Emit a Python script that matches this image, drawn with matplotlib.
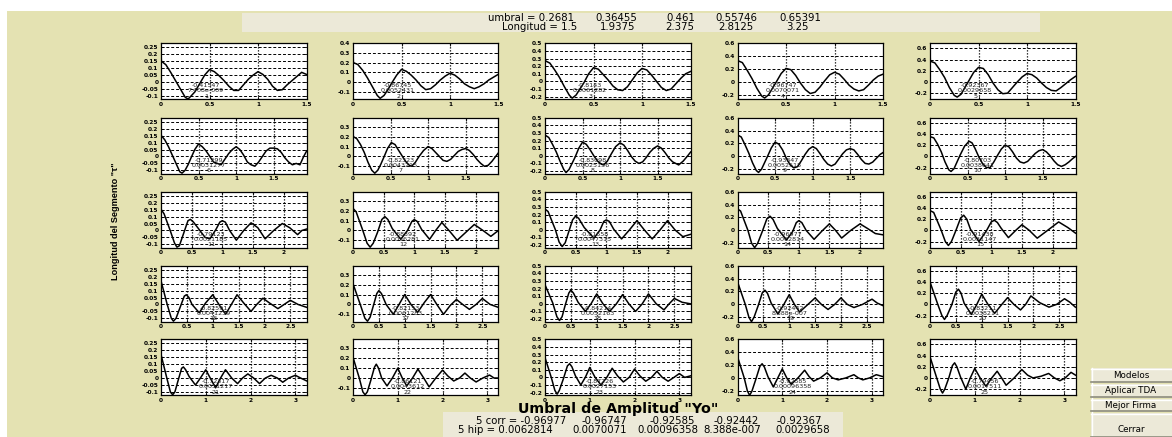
import matplotlib
matplotlib.use("Agg")
import matplotlib.pyplot as plt
from matplotlib.patches import Rectangle
from matplotlib.lines import Line2D

W, H = 1172, 437
BG = '#E4E2B2'
PANEL = '#ECE9D8'

umbral = [0.2681, 0.36455, 0.461, 0.55746, 0.65391]
longitud = [1.5, 1.9375, 2.375, 2.8125, 3.25]
best_corr = ['-0.96977', '-0.96747', '-0.92585', '-0.92442', '-0.92367']
best_hip = ['0.0062814', '0.0070071', '0.00096358', '8.388e-007', '0.0029658']

# correlation / hypothesis value printed inside each subplot
sub_corr = ['-0.41547', '-0.86745', '-0.8143', '-0.96747', '-0.92367',
            '-0.71299', '-0.82323', '-0.83098', '-0.93847', '-0.80703',
            '-0.79123', '-0.88392', '-0.81558', '-0.96977', '-0.91430',
            '-0.82591', '-0.82153', '-0.84214', '-0.92442', '-0.83211',
            '-0.72317', '-0.86121', '-0.87226', '-0.92585', '-0.79456']
sub_hip = ['7.408e-009', '0.0052431', '0.0061282', '0.0070071', '0.0029658',
           '0.0031277', '0.0043215', '0.0025136', '0.0052518', '0.0038641',
           '0.0021185', '0.0036281', '0.0047315', '0.0062814', '0.0031147',
           '0.0041239', '0.0061283', '0.0052163', '8.388e-007', '0.0038211',
           '0.0051217', '0.0043612', '0.0027153', '0.00096358', '0.0017511']

# y range per column, per row
ylims = [
    [(-0.124, 0.279), (-0.18, 0.4), (-0.235, 0.5), (-0.27, 0.6), (-0.31, 0.69)],
    [(-0.124, 0.279), (-0.175, 0.392), (-0.235, 0.5), (-0.27, 0.6), (-0.31, 0.69)],
    [(-0.124, 0.279), (-0.175, 0.392), (-0.235, 0.5), (-0.27, 0.6), (-0.31, 0.69)],
    [(-0.124, 0.279), (-0.175, 0.392), (-0.235, 0.5), (-0.27, 0.6), (-0.31, 0.69)],
    [(-0.124, 0.279), (-0.175, 0.392), (-0.235, 0.5), (-0.27, 0.6), (-0.31, 0.69)],
]
col_yticks = [
    [-0.1, -0.05, 0, 0.05, 0.1, 0.15, 0.2, 0.25],
    [-0.1, 0, 0.1, 0.2, 0.3, 0.4],
    [-0.2, -0.1, 0, 0.1, 0.2, 0.3, 0.4, 0.5],
    [-0.2, 0, 0.2, 0.4, 0.6],
    [-0.2, 0, 0.2, 0.4, 0.6],
]
row_xticks = [
    [0, 0.5, 1, 1.5],
    [0, 0.5, 1, 1.5],
    [0, 0.5, 1, 1.5, 2],
    [0, 0.5, 1, 1.5, 2, 2.5],
    [0, 1, 2, 3],
]

# autocorrelation curves, (tau, value) pairs
c01 = [(0, .21), (.004, .15), (.05, .125), (.1, .07), (.15, .01), (.2, -.05), (.25, -.11), (.28, -.122),
       (.31, -.1), (.35, -.07), (.4, -.01), (.45, .05), (.5, .09), (.55, .075), (.6, .045), (.65, .01),
       (.7, -.03), (.75, -.06), (.8, -.06), (.85, -.02), (.9, .02), (.95, .05), (1.0, .075), (1.05, .055),
       (1.1, .02), (1.15, -.03), (1.2, -.06), (1.25, -.055), (1.3, -.02), (1.35, .01), (1.4, .04),
       (1.45, .07), (1.5, .055)]
c02 = [(0, .3), (.004, .2), (.05, .18), (.1, .12), (.15, .04), (.2, -.05), (.25, -.14), (.28, -.17),
       (.32, -.14), (.36, -.08), (.4, -.01), (.45, .07), (.5, .13), (.55, .11), (.6, .07), (.65, .02),
       (.7, -.04), (.75, -.08), (.8, -.07), (.85, -.03), (.9, .02), (.95, .06), (1.0, .09), (1.05, .07),
       (1.1, .03), (1.15, -.02), (1.2, -.05), (1.25, -.07), (1.3, -.05), (1.35, -.02), (1.4, .02),
       (1.45, .05), (1.5, .08)]
c03 = [(0, .38), (.004, .27), (.05, .24), (.1, .15), (.15, .05), (.2, -.07), (.25, -.18), (.28, -.22),
       (.32, -.18), (.36, -.1), (.4, -.02), (.45, .1), (.5, .18), (.55, .16), (.6, .09), (.65, .02),
       (.7, -.06), (.75, -.11), (.8, -.12), (.85, -.07), (.9, .02), (.95, .11), (1.0, .17), (1.05, .15),
       (1.1, .08), (1.15, 0), (1.2, -.08), (1.25, -.12), (1.3, -.1), (1.35, -.03), (1.4, .04),
       (1.45, .1), (1.5, .13)]
c04 = [(0, .45), (.004, .33), (.05, .3), (.1, .18), (.15, .05), (.2, -.1), (.25, -.22), (.28, -.25),
       (.32, -.2), (.36, -.1), (.4, 0), (.45, .13), (.5, .21), (.55, .19), (.6, .1), (.65, -.02),
       (.7, -.12), (.75, -.18), (.8, -.16), (.85, -.08), (.9, .02), (.95, .11), (1.0, .15), (1.05, .12),
       (1.1, .04), (1.15, -.05), (1.2, -.11), (1.25, -.14), (1.3, -.12), (1.35, -.05), (1.4, .03),
       (1.45, .09), (1.5, .12)]
c05 = [(0, .55), (.004, .37), (.05, .34), (.1, .22), (.15, .08), (.2, -.1), (.25, -.24), (.28, -.27),
       (.32, -.22), (.36, -.1), (.4, .02), (.45, .17), (.5, .26), (.55, .24), (.6, .13), (.65, -.02),
       (.7, -.14), (.75, -.21), (.8, -.2), (.85, -.1), (.9, 0), (.95, .09), (1.0, .15), (1.05, .13),
       (1.1, .07), (1.15, -.02), (1.2, -.1), (1.25, -.15), (1.3, -.16), (1.35, -.1), (1.4, -.03),
       (1.45, .04), (1.5, .1)]

c06 = [(0, .21), (.004, .15), (.05, .12), (.1, .07), (.15, .01), (.2, -.05), (.25, -.11), (.28, -.12),
       (.32, -.1), (.36, -.06), (.4, -.01), (.45, .05), (.5, .09), (.55, .07), (.6, .04), (.65, 0),
       (.7, -.04), (.75, -.05), (.8, -.06), (.85, -.02), (.9, .02), (.95, .05), (1.0, .07), (1.05, .05),
       (1.1, .01), (1.15, -.04), (1.2, -.06), (1.25, -.07), (1.3, -.04), (1.35, 0), (1.4, .04),
       (1.45, .06), (1.5, .06), (1.55, .055), (1.6, .03), (1.65, -.01), (1.7, -.04), (1.75, -.06),
       (1.8, -.05), (1.85, -.06), (1.9, 0), (1.94, .04)]
c07 = [(0, .3), (.004, .2), (.05, .18), (.1, .12), (.15, .04), (.2, -.06), (.25, -.14), (.29, -.17),
       (.33, -.14), (.37, -.08), (.41, -.01), (.46, .08), (.51, .14), (.56, .12), (.6, .07), (.65, .01),
       (.7, -.05), (.75, -.09), (.78, -.1), (.83, -.06), (.88, 0), (.94, .06), (1.0, .1), (1.05, .08),
       (1.1, .04), (1.15, 0), (1.2, -.04), (1.25, -.05), (1.3, -.03), (1.35, .01), (1.4, .05),
       (1.45, .07), (1.5, .08), (1.55, .06), (1.6, .02), (1.65, -.03), (1.7, -.07), (1.75, -.1),
       (1.8, -.09), (1.85, -.05), (1.9, 0), (1.94, .04)]
c08 = [(0, .36), (.004, .27), (.05, .24), (.1, .15), (.15, .05), (.2, -.07), (.25, -.18), (.28, -.22),
       (.32, -.18), (.36, -.1), (.4, -.02), (.45, .1), (.5, .18), (.55, .15), (.6, .08), (.65, 0),
       (.7, -.07), (.75, -.11), (.78, -.12), (.83, -.07), (.88, .02), (.94, .12), (1.0, .17), (1.05, .14),
       (1.1, .07), (1.15, -.01), (1.2, -.07), (1.25, -.1), (1.3, -.08), (1.35, -.02), (1.4, .05),
       (1.45, .1), (1.5, .13), (1.55, .1), (1.6, .04), (1.65, -.03), (1.7, -.08), (1.78, -.12),
       (1.84, -.07), (1.9, 0), (1.94, .05)]
c09 = [(0, .45), (.004, .33), (.05, .3), (.1, .18), (.15, .05), (.2, -.1), (.25, -.22), (.28, -.25),
       (.32, -.2), (.36, -.1), (.4, 0), (.45, .13), (.5, .22), (.55, .19), (.6, .1), (.65, -.03),
       (.7, -.13), (.75, -.18), (.8, -.16), (.85, -.07), (.9, .03), (.95, .11), (1.0, .15), (1.05, .12),
       (1.1, .04), (1.15, -.05), (1.2, -.12), (1.25, -.15), (1.3, -.12), (1.35, -.04), (1.4, .04),
       (1.45, .1), (1.5, .12), (1.55, .1), (1.6, .03), (1.65, -.05), (1.7, -.11), (1.75, -.12),
       (1.8, -.09), (1.85, -.03), (1.9, .03), (1.94, .06)]
c10 = [(0, .52), (.004, .35), (.05, .33), (.1, .22), (.15, .08), (.2, -.1), (.25, -.24), (.28, -.27),
       (.32, -.22), (.36, -.1), (.4, .02), (.46, .18), (.52, .27), (.56, .24), (.6, .14), (.65, -.01),
       (.7, -.13), (.75, -.2), (.8, -.2), (.85, -.1), (.9, .02), (.95, .13), (1.0, .2), (1.05, .17),
       (1.1, .08), (1.15, -.03), (1.2, -.1), (1.25, -.12), (1.3, -.09), (1.35, -.02), (1.4, .05),
       (1.45, .1), (1.5, .12), (1.55, .08), (1.6, .01), (1.65, -.08), (1.7, -.15), (1.75, -.18),
       (1.8, -.15), (1.85, -.1), (1.9, -.04), (1.94, 0)]

c11 = [(0, .21), (.004, .15), (.05, .12), (.15, 0), (.22, -.09), (.26, -.12), (.3, -.11), (.37, -.02),
       (.44, .07), (.48, .08), (.53, .06), (.6, .02), (.72, -.05), (.8, -.06), (.9, .01), (.96, .06),
       (1.0, .07), (1.05, .06), (1.12, 0), (1.23, -.07), (1.35, 0), (1.47, .055), (1.58, .02),
       (1.7, -.06), (1.84, 0), (1.98, .05), (2.1, .02), (2.23, -.03), (2.3, 0), (2.375, .01)]
c12 = [(0, .3), (.004, .22), (.05, .19), (.16, 0), (.23, -.13), (.28, -.17), (.33, -.13), (.4, -.02),
       (.47, .11), (.52, .14), (.57, .11), (.64, .02), (.78, -.09), (.89, 0), (.96, .09), (1.0, .11),
       (1.05, .09), (1.12, .01), (1.25, -.09), (1.35, 0), (1.45, .08), (1.58, -.01), (1.7, -.1),
       (1.84, -.02), (1.98, .06), (2.12, 0), (2.25, -.06), (2.375, 0)]
c13 = [(0, .35), (.004, .27), (.05, .24), (.17, 0), (.23, -.16), (.28, -.22), (.33, -.17), (.39, -.02),
       (.45, .13), (.5, .18), (.55, .15), (.64, .03), (.8, -.11), (.9, 0), (.96, .11), (1.0, .13),
       (1.05, .11), (1.12, .01), (1.25, -.12), (1.38, 0), (1.5, .12), (1.62, 0), (1.75, -.12), (1.88, 0),
       (2.0, .12), (2.12, 0), (2.25, -.09), (2.375, -.06)]
c14 = [(0, .45), (.004, .33), (.05, .3), (.17, 0), (.23, -.2), (.28, -.27), (.33, -.2), (.4, -.03),
       (.48, .18), (.53, .22), (.58, .17), (.65, .03), (.8, -.15), (.9, -.02), (.96, .12), (1.0, .15),
       (1.05, .12), (1.12, 0), (1.25, -.14), (1.38, -.01), (1.5, .1), (1.6, 0), (1.7, -.12), (1.85, 0),
       (2.0, .1), (2.12, .03), (2.25, -.05), (2.375, -.07)]
c15 = [(0, .55), (.004, .35), (.06, .32), (.18, .01), (.25, -.2), (.3, -.27), (.35, -.2), (.42, -.01),
       (.5, .22), (.55, .27), (.6, .2), (.66, .02), (.8, -.2), (.92, -.01), (1.0, .15), (1.05, .18),
       (1.1, .14), (1.16, .04), (1.28, -.13), (1.4, 0), (1.5, .1), (1.62, 0), (1.75, -.14), (1.92, 0),
       (2.1, .15), (2.25, .05), (2.375, -.05)]

c16 = [(0, .17), (.12, 0), (.2, -.1), (.24, -.12), (.29, -.1), (.36, -.03), (.45, .06), (.49, .07),
       (.54, .05), (.6, 0), (.74, -.06), (.86, .01), (1.0, .07), (1.12, 0), (1.25, -.07), (1.36, 0),
       (1.47, .07), (1.6, .01), (1.74, -.05), (1.85, 0), (1.97, .045), (2.1, .01), (2.26, -.03),
       (2.38, 0), (2.5, .03), (2.65, 0), (2.81, -.02)]
c17 = [(0, .21), (.14, 0), (.23, -.14), (.28, -.17), (.33, -.13), (.39, -.02), (.46, .11), (.5, .14),
       (.55, .11), (.64, 0), (.78, -.1), (.89, 0), (1.0, .1), (1.12, 0), (1.25, -.08), (1.38, .02),
       (1.5, .1), (1.62, 0), (1.75, -.1), (1.88, -.01), (2.0, .05), (2.12, 0), (2.25, -.05), (2.38, 0),
       (2.5, .06), (2.65, 0), (2.81, -.03)]
c18 = [(0, .25), (.15, .01), (.23, -.17), (.28, -.22), (.33, -.17), (.39, -.02), (.46, .14), (.5, .18),
       (.55, .14), (.64, .02), (.78, -.1), (.89, 0), (1.0, .13), (1.12, 0), (1.25, -.1), (1.38, 0),
       (1.5, .12), (1.62, 0), (1.75, -.1), (1.88, 0), (2.0, .13), (2.15, 0), (2.3, -.08), (2.4, 0),
       (2.5, .07), (2.65, .02), (2.81, 0)]
c19 = [(0, .35), (.15, 0), (.22, -.2), (.27, -.27), (.32, -.2), (.4, -.02), (.48, .18), (.53, .22),
       (.58, .17), (.65, .02), (.78, -.15), (.89, -.01), (1.0, .15), (1.1, 0), (1.2, -.12), (1.35, -.01),
       (1.5, .1), (1.62, 0), (1.75, -.08), (1.88, 0), (2.0, .1), (2.12, 0), (2.25, -.05), (2.42, 0),
       (2.6, .08), (2.7, .02), (2.81, -.02)]
c20 = [(0, .4), (.15, 0), (.23, -.2), (.28, -.27), (.33, -.2), (.42, -.01), (.5, .22), (.55, .27),
       (.6, .2), (.66, .02), (.8, -.18), (.9, -.01), (1.0, .18), (1.12, 0), (1.25, -.16), (1.38, -.01),
       (1.5, .12), (1.62, 0), (1.75, -.1), (1.85, 0), (1.95, .15), (2.12, .03), (2.3, -.05), (2.45, 0),
       (2.6, .1), (2.7, .04), (2.81, -.05)]

c21 = [(0, .17), (.13, 0), (.21, -.1), (.26, -.12), (.31, -.1), (.38, -.02), (.46, .07), (.5, .08),
       (.55, .06), (.63, .01), (.77, -.05), (.88, 0), (1.0, .06), (1.1, 0), (1.22, -.07), (1.33, 0),
       (1.44, .06), (1.58, 0), (1.71, -.04), (1.82, 0), (1.94, .03), (2.07, 0), (2.2, -.04), (2.33, 0),
       (2.46, .02), (2.6, 0), (2.72, -.03), (2.85, 0), (3.0, .02), (3.12, 0), (3.25, -.02)]
c22 = [(0, .21), (.14, 0), (.22, -.14), (.27, -.17), (.32, -.14), (.4, -.02), (.48, .11), (.52, .14),
       (.57, .1), (.64, 0), (.76, -.08), (.88, 0), (1.0, .1), (1.1, 0), (1.2, -.08), (1.33, 0),
       (1.45, .09), (1.58, 0), (1.7, -.09), (1.85, 0), (2.0, .08), (2.12, .02), (2.25, -.03), (2.38, 0),
       (2.5, .05), (2.62, 0), (2.75, -.04), (2.9, 0), (3.05, .03), (3.15, 0), (3.25, 0)]
c23 = [(0, .26), (.14, 0), (.22, -.17), (.27, -.22), (.32, -.17), (.41, -.02), (.5, .15), (.55, .18),
       (.6, .14), (.68, .02), (.8, -.1), (.9, 0), (1.0, .13), (1.12, 0), (1.25, -.1), (1.38, 0),
       (1.5, .12), (1.62, .02), (1.75, -.06), (1.88, 0), (2.0, .11), (2.12, .02), (2.25, -.05), (2.38, 0),
       (2.5, .08), (2.62, 0), (2.75, -.05), (2.88, 0), (3.0, .05), (3.12, 0), (3.25, .02)]
c24 = [(0, .33), (.15, 0), (.22, -.2), (.27, -.27), (.32, -.21), (.41, -.02), (.5, .18), (.55, .22),
       (.6, .17), (.68, .02), (.8, -.14), (.9, 0), (1.0, .14), (1.1, 0), (1.2, -.1), (1.35, 0),
       (1.5, .12), (1.6, .02), (1.7, -.05), (1.85, 0), (2.0, .08), (2.12, 0), (2.25, -.03), (2.42, 0),
       (2.6, .05), (2.7, 0), (2.8, -.03), (2.95, 0), (3.1, .05), (3.25, .02)]
c25 = [(0, .38), (.15, 0), (.23, -.2), (.28, -.27), (.33, -.2), (.42, 0), (.5, .22), (.55, .27),
       (.6, .2), (.68, .02), (.8, -.2), (.9, 0), (1.0, .17), (1.12, 0), (1.25, -.15), (1.38, 0),
       (1.5, .12), (1.6, 0), (1.7, -.13), (1.88, 0), (2.05, .15), (2.18, .05), (2.3, 0), (2.48, .03),
       (2.65, .08), (2.78, 0), (2.9, -.05), (3.02, 0), (3.15, .1), (3.25, .05)]

curves = [c01, c02, c03, c04, c05, c06, c07, c08, c09, c10, c11, c12, c13,
          c14, c15, c16, c17, c18, c19, c20, c21, c22, c23, c24, c25]

# subplot grid in pixels
col_left = [161, 353, 545, 737.5, 930]
row_top = [43.3, 117.7, 191.7, 265.7, 339.3]
ax_w, ax_h = 145.5, 56


def fig_rect(x0, y0, x1, y1, **kw):
    fig.add_artist(Rectangle((x0 / W, 1 - y1 / H), (x1 - x0) / W, (y1 - y0) / H,
                             transform=fig.transFigure, **kw))


def fig_line(xs, ys, **kw):
    fig.add_artist(Line2D([x / W for x in xs], [1 - y / H for y in ys],
                          transform=fig.transFigure, **kw))


def fig_text(x, y, s, **kw):
    fig.text(x / W, 1 - y / H, s, **kw)


fig = plt.figure(figsize=(W / 100, H / 100), dpi=100, facecolor=BG)

# white strip on top and left border
fig_rect(0, 0, W, 11, facecolor='white', edgecolor='none')
fig_rect(0, 0, 7, H, facecolor='white', edgecolor='none')

# top info panel
fig_rect(242, 13, 1040, 32, facecolor=PANEL, edgecolor='none')
top_line1 = ['umbral = %g' % umbral[0]] + ['%g' % u for u in umbral[1:]]
top_line2 = ['Longitud = %g' % longitud[0]] + ['%g' % l for l in longitud[1:]]
top_x1 = [531, 616.5, 680.5, 736.5, 800]
top_x2 = [539.5, 617.5, 680, 736, 797.5]
for s, x in zip(top_line1, top_x1):
    fig_text(x, 18, s, ha='center', va='center', fontsize=7.3)
for s, x in zip(top_line2, top_x2):
    fig_text(x, 27, s, ha='center', va='center', fontsize=7.3)

for i, pts in enumerate(curves):
    r, c = divmod(i, 5)
    L = longitud[r]
    lo, hi = ylims[r][c]
    ax = fig.add_axes([col_left[c] / W, 1 - (row_top[r] + ax_h) / H, ax_w / W, ax_h / H])
    ax.set_facecolor('white')

    yt = [t for t in col_yticks[c] if lo <= t <= hi + 1e-9]
    xt = row_xticks[r]
    for t in yt:
        if lo < t < hi - 1e-9:
            ax.axhline(t, color='black', lw=0.7, ls=(0, (3, 2)), zorder=1)
    for t in xt:
        if 0 < t < L:
            ax.axvline(t, color='black', lw=0.9, ls=(0, (1, 1.4)), zorder=1)

    ax.plot([p[0] for p in pts], [p[1] for p in pts], color='black', lw=1.1, zorder=3)

    ax.set_xlim(0, L)
    ax.set_ylim(lo, hi)
    ax.set_xticks(xt)
    ax.set_xticklabels(['%g' % t for t in xt])
    ax.set_yticks(yt)
    ax.set_yticklabels(['%g' % t for t in yt])
    ax.tick_params(direction='in', length=2, width=0.6, labelsize=4.2, pad=1.8,
                   top=True, right=True, colors='black')
    for lab in ax.get_xticklabels() + ax.get_yticklabels():
        lab.set_fontweight('bold')
    for sp in ax.spines.values():
        sp.set_linewidth(0.9)

    tx = 0.31 + 0.017 * r
    for ty, s in zip([0.24, 0.15, 0.055], [sub_corr[i], sub_hip[i], str(i + 1)]):
        ax.text(tx, ty, s, transform=ax.transAxes, ha='center', va='center',
                fontsize=4.6, color='#202020', zorder=4)

# axis titles for the whole grid
fig_text(618, 409, 'Umbral de Amplitud "Yo"', ha='center', va='center',
         fontsize=10.3, fontweight='bold')
fig_text(115, 221, 'Longitud del Segmento "τ"', ha='center', va='center', rotation=90,
         fontsize=6.6, fontweight='bold', family='Liberation Sans')

# bottom result panel
fig_rect(443, 412, 843, H, facecolor=PANEL, edgecolor='none')
bot_line1 = ['5 corr = ' + best_corr[0]] + best_corr[1:]
bot_line2 = ['5 hip = ' + best_hip[0]] + best_hip[1:]
bot_x1 = [521.5, 604.5, 672, 736, 799]
bot_x2 = [505, 599.5, 668, 732, 802.5]
for s, x in zip(bot_line1, bot_x1):
    fig_text(x, 421.5, s, ha='center', va='center', fontsize=7.3)
for s, x in zip(bot_line2, bot_x2):
    fig_text(x, 430, s, ha='center', va='center', fontsize=7.3)

# push buttons on the right
buttons = ['Modelos', 'Aplicar TDA', 'Mejor Firma', 'Cerrar']
btn_top = [368, 384, 399, 413]
btn_bot = [382.5, 397.5, 411.5, 437]
for label, y0, y1 in zip(buttons, btn_top, btn_bot):
    fig_rect(1091, y0, W, y1, facecolor=PANEL, edgecolor='none')
    fig_line([1091, W], [y0 + 0.5, y0 + 0.5], color='white', lw=1)
    fig_line([1091.5, 1091.5], [y0, y1], color='white', lw=1)
    fig_line([1091, W], [y1 - 0.5, y1 - 0.5], color='#8C8C7C', lw=1.2)
    ty = (y0 + y1) / 2 if label != 'Cerrar' else 430
    fig_text(1131, ty, label, ha='center', va='center', fontsize=6.3)

fig.savefig('out.png', dpi=100, facecolor=BG)
